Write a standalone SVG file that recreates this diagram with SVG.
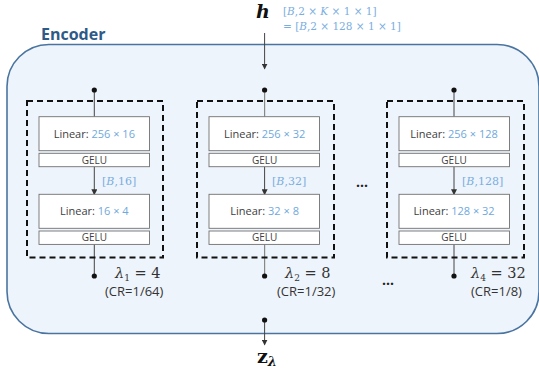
<svg xmlns="http://www.w3.org/2000/svg" width="539" height="377" viewBox="0 0 539 377">
<defs>
<marker id="ah" viewBox="0 0 6 6" refX="5" refY="3" markerWidth="6" markerHeight="6" orient="auto" markerUnits="userSpaceOnUse">
<path d="M0,0 L6,3 L0,6 z" fill="#333"/>
</marker>
<style>
.enc{fill:#EEF4FB;stroke:#4A74A0;stroke-width:1.6}
.dash{fill:none;stroke:#111;stroke-width:2;stroke-dasharray:6,4}
.box{fill:#fff;stroke:#707070;stroke-width:0.9}
.ln{stroke:#444;stroke-width:1;fill:none}
.lng{stroke:#888;stroke-width:1.2;fill:none}
.dot{fill:#111}
.t{font-family:"Open Sans","Liberation Sans",sans-serif;font-size:11px;fill:#404040}
.g{font-family:"Open Sans","Liberation Sans",sans-serif;font-size:10px;fill:#404040}
.b{fill:#6FA8DC}
.i{font-style:italic}
.mb{font-family:"DejaVu Serif","Liberation Serif",serif;font-size:10.5px;fill:#7AAEE0}
.ms{font-family:"DejaVu Serif","Liberation Serif",serif;font-size:11px;fill:#7AAEE0}
.lam{font-family:"DejaVu Serif","Liberation Serif",serif;font-size:14.5px;fill:#333}
.cr{font-family:"Open Sans","Liberation Sans",sans-serif;font-size:13px;fill:#333}
</style>
</defs>
<rect class="enc" x="7" y="44.5" width="532" height="289" rx="42" ry="42"/>
<text x="41" y="40" font-family="Open Sans,Liberation Sans,sans-serif" font-weight="bold" font-size="16" fill="#2E5A87">Encoder</text>
<g id="input">
<text x="256" y="18" font-family="DejaVu Serif,Liberation Serif,serif" font-weight="bold" font-style="italic" font-size="19" fill="#111">h</text>
<text class="mb" x="283" y="15">[<tspan class="i">B</tspan>,2 × <tspan class="i">K</tspan> × 1 × 1]</text>
<text class="mb" x="283" y="29.5">= [<tspan class="i">B</tspan>,2 × 128 × 1 × 1]</text>
</g>
<g id="connectors">
<line class="ln" x1="264.6" y1="33" x2="264.6" y2="68.5" marker-end="url(#ah)"/>
<line class="ln" x1="264.6" y1="320" x2="264.6" y2="344.5" marker-end="url(#ah)"/>
<circle class="dot" cx="264.6" cy="320" r="2.6"/>
<line class="ln" x1="94.3" y1="90" x2="94.3" y2="116.7"/>
<line class="lng" x1="264.6" y1="90" x2="264.6" y2="116.7"/>
<line class="ln" x1="454" y1="90" x2="454" y2="116.7"/>
<circle class="dot" cx="94.3" cy="90" r="2.6"/>
<circle class="dot" cx="264.6" cy="90" r="2.6"/>
<circle class="dot" cx="454" cy="90" r="2.6"/>
<line class="ln" x1="94.3" y1="244.3" x2="94.3" y2="276"/>
<line class="lng" x1="264.6" y1="244.3" x2="264.6" y2="276"/>
<line class="ln" x1="454" y1="244.3" x2="454" y2="276"/>
<circle class="dot" cx="94.3" cy="276" r="2.6"/>
<circle class="dot" cx="264.6" cy="276" r="2.6"/>
<circle class="dot" cx="454" cy="276" r="2.6"/>
<line class="ln" x1="94.3" y1="166.7" x2="94.3" y2="194.3" marker-end="url(#ah)"/>
<line class="ln" x1="264.6" y1="166.7" x2="264.6" y2="194.3" marker-end="url(#ah)"/>
<line class="ln" x1="454" y1="166.7" x2="454" y2="194.3" marker-end="url(#ah)"/>
</g>
<g id="branch1">
<rect class="dash" x="27" y="101" width="136" height="156.5"/>
<rect class="box" x="39" y="116.7" width="110.5" height="34"/>
<text class="t" x="94.3" y="137.5" text-anchor="middle">Linear: <tspan class="b">256 × 16</tspan></text>
<rect class="box" x="39" y="153.3" width="110.5" height="13.4"/>
<text class="g" x="94.3" y="163.7" text-anchor="middle">GELU</text>
<text class="ms" x="102" y="185">[<tspan class="i">B</tspan>,16]</text>
<rect class="box" x="39" y="194.3" width="110.5" height="34"/>
<text class="t" x="94.3" y="215" text-anchor="middle">Linear: <tspan class="b">16 × 4</tspan></text>
<rect class="box" x="39" y="231" width="110.5" height="13.4"/>
<text class="g" x="94.3" y="241.4" text-anchor="middle">GELU</text>
<text class="lam" x="115" y="278"><tspan class="i">λ</tspan><tspan font-size="9" dy="3">1</tspan><tspan dy="-3"> = 4</tspan></text>
<text class="cr" x="105" y="296">(CR=1/64)</text>
</g>
<g id="branch2">
<rect class="dash" x="197" y="101" width="137" height="156.5"/>
<rect class="box" x="209" y="116.7" width="110.5" height="34"/>
<text class="t" x="264.6" y="137.5" text-anchor="middle">Linear: <tspan class="b">256 × 32</tspan></text>
<rect class="box" x="209" y="153.3" width="110.5" height="13.4"/>
<text class="g" x="264.6" y="163.7" text-anchor="middle">GELU</text>
<text class="ms" x="272" y="185">[<tspan class="i">B</tspan>,32]</text>
<rect class="box" x="209" y="194.3" width="110.5" height="34"/>
<text class="t" x="264.6" y="215" text-anchor="middle">Linear: <tspan class="b">32 × 8</tspan></text>
<rect class="box" x="209" y="231" width="110.5" height="13.4"/>
<text class="g" x="264.6" y="241.4" text-anchor="middle">GELU</text>
<text class="lam" x="285" y="278"><tspan class="i">λ</tspan><tspan font-size="9" dy="3">2</tspan><tspan dy="-3"> = 8</tspan></text>
<text class="cr" x="277" y="296">(CR=1/32)</text>
</g>
<g id="branch4">
<rect class="dash" x="387" y="101" width="137" height="156.5"/>
<rect class="box" x="399" y="116.7" width="110.5" height="34"/>
<text class="t" x="454" y="137.5" text-anchor="middle">Linear: <tspan class="b">256 × 128</tspan></text>
<rect class="box" x="399" y="153.3" width="110.5" height="13.4"/>
<text class="g" x="454" y="163.7" text-anchor="middle">GELU</text>
<text class="ms" x="462" y="185">[<tspan class="i">B</tspan>,128]</text>
<rect class="box" x="399" y="194.3" width="110.5" height="34"/>
<text class="t" x="454" y="215" text-anchor="middle">Linear: <tspan class="b">128 × 32</tspan></text>
<rect class="box" x="399" y="231" width="110.5" height="13.4"/>
<text class="g" x="454" y="241.4" text-anchor="middle">GELU</text>
<text class="lam" x="471" y="278"><tspan class="i">λ</tspan><tspan font-size="9" dy="3">4</tspan><tspan dy="-3"> = 32</tspan></text>
<text class="cr" x="471" y="296">(CR=1/8)</text>
</g>
<text x="362" y="187" text-anchor="middle" font-family="Open Sans,Liberation Sans,sans-serif" font-size="14" font-weight="bold" fill="#222">...</text>
<text x="388" y="285" text-anchor="middle" font-family="Open Sans,Liberation Sans,sans-serif" font-size="14" font-weight="bold" fill="#222">...</text>
<g id="output">
<text x="257" y="363" font-family="DejaVu Serif,Liberation Serif,serif" font-weight="bold" font-size="19" fill="#111">z<tspan font-size="13" dy="3" font-style="italic">λ</tspan></text>
</g>
</svg>
